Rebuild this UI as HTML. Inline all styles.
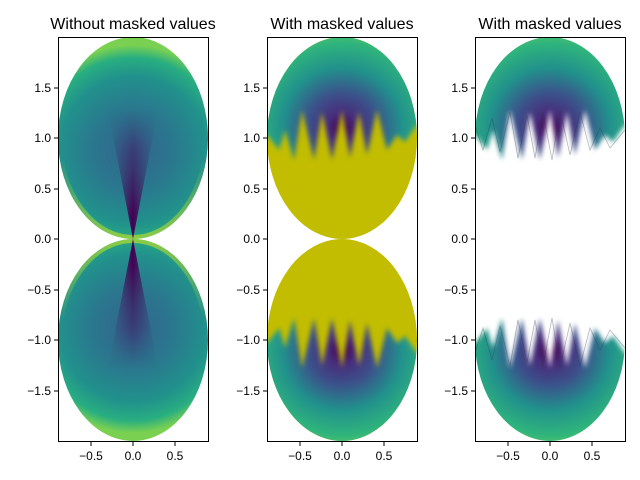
<!DOCTYPE html>
<html><head><style>body{margin:0;background:#fff}svg{display:block}text{font-family:"Liberation Sans","DejaVu Sans",sans-serif}</style></head><body>
<svg width="640" height="480" xmlns="http://www.w3.org/2000/svg">
<defs>
<radialGradient id="gL" gradientUnits="userSpaceOnUse" cx="133" cy="150" r="105">
<stop offset="0" stop-color="#33638d"/><stop offset="0.4" stop-color="#2a788e"/><stop offset="0.7" stop-color="#21918c"/><stop offset="0.88" stop-color="#28ae80"/><stop offset="1" stop-color="#7ad151"/>
</radialGradient>
<radialGradient id="gL2" gradientUnits="userSpaceOnUse" cx="133" cy="328" r="105">
<stop offset="0" stop-color="#33638d"/><stop offset="0.4" stop-color="#2a788e"/><stop offset="0.7" stop-color="#21918c"/><stop offset="0.88" stop-color="#28ae80"/><stop offset="1" stop-color="#7ad151"/>
</radialGradient>
<linearGradient id="wh" x1="0" x2="1"><stop offset="0" stop-color="#440154" stop-opacity="0"/><stop offset="0.5" stop-color="#440154" stop-opacity="1"/><stop offset="1" stop-color="#440154" stop-opacity="0"/></linearGradient>
<linearGradient id="fadeU" x1="0" y1="1" x2="0" y2="0"><stop offset="0" stop-color="#fff"/><stop offset="0.2" stop-color="#fff"/><stop offset="1" stop-color="#000"/></linearGradient>
<linearGradient id="fadeD" x1="0" y1="0" x2="0" y2="1"><stop offset="0" stop-color="#fff"/><stop offset="0.2" stop-color="#fff"/><stop offset="1" stop-color="#000"/></linearGradient>
<mask id="mwU" maskUnits="userSpaceOnUse" x="0" y="0" width="640" height="480"><rect x="90" y="110" width="90" height="129" fill="url(#fadeU)"/></mask>
<mask id="mwD" maskUnits="userSpaceOnUse" x="0" y="0" width="640" height="480"><rect x="90" y="239" width="90" height="129" fill="url(#fadeD)"/></mask>
<linearGradient id="ylU" x1="0" y1="0" x2="0" y2="1"><stop offset="0" stop-color="#000"/><stop offset="0.6" stop-color="#000"/><stop offset="1" stop-color="#aaa"/></linearGradient>
<linearGradient id="ylD" x1="0" y1="1" x2="0" y2="0"><stop offset="0" stop-color="#000"/><stop offset="0.6" stop-color="#000"/><stop offset="1" stop-color="#aaa"/></linearGradient>
<mask id="myU" maskUnits="userSpaceOnUse" x="0" y="0" width="640" height="480"><rect x="50" y="37" width="170" height="202" fill="url(#ylU)"/></mask>
<mask id="myD" maskUnits="userSpaceOnUse" x="0" y="0" width="640" height="480"><rect x="50" y="239" width="170" height="202" fill="url(#ylD)"/></mask>
<radialGradient id="gU" gradientUnits="userSpaceOnUse" cx="0" cy="128" r="100">
<stop offset="0" stop-color="#440154"/><stop offset="0.15" stop-color="#472d7b"/><stop offset="0.35" stop-color="#3b528b"/><stop offset="0.6" stop-color="#21918c"/><stop offset="0.85" stop-color="#2fb47c"/><stop offset="1" stop-color="#5ec962"/>
</radialGradient>
<radialGradient id="gD" gradientUnits="userSpaceOnUse" cx="0" cy="350" r="100">
<stop offset="0" stop-color="#440154"/><stop offset="0.15" stop-color="#472d7b"/><stop offset="0.35" stop-color="#3b528b"/><stop offset="0.6" stop-color="#21918c"/><stop offset="0.85" stop-color="#2fb47c"/><stop offset="1" stop-color="#5ec962"/>
</radialGradient>
<filter id="bl" x="-0.2" y="-0.2" width="1.4" height="1.4"><feGaussianBlur stdDeviation="2.5"/></filter>
<mask id="mU" maskUnits="userSpaceOnUse" x="-100" y="0" width="200" height="480">
<polygon filter="url(#bl)" fill="#fff" points="-90,0 90,0 90,125 75,125 63,142 55,135 45,150 35,110 25,155 17,112 8,158 0,110 -10,160 -20,112 -28,160 -40,110 -48,160 -57,130 -63,150 -75,135 -90,135"/>
</mask>
<mask id="mD" maskUnits="userSpaceOnUse" x="-100" y="0" width="200" height="480">
<polygon filter="url(#bl)" fill="#fff" points="-90,478 90,478 90,353 75,353 63,336 55,343 45,328 35,368 25,323 17,366 8,320 0,368 -10,318 -20,366 -28,318 -40,368 -48,318 -57,348 -63,328 -75,343 -90,343"/>
</mask>
<clipPath id="eU"><ellipse cx="0" cy="138" rx="75" ry="101"/></clipPath>
<clipPath id="eD"><ellipse cx="0" cy="340" rx="75" ry="101"/></clipPath>
<clipPath id="lU"><ellipse cx="133" cy="138" rx="75" ry="101"/></clipPath>
<clipPath id="lD"><ellipse cx="133" cy="340" rx="75" ry="101"/></clipPath>
<g id="topV"><g clip-path="url(#eU)"><rect x="-80" y="30" width="160" height="220" fill="url(#gU)" mask="url(#mU)"/></g></g>
<g id="botV"><g clip-path="url(#eD)"><rect x="-80" y="230" width="160" height="220" fill="url(#gD)" mask="url(#mD)"/></g></g>
</defs>
<!-- Left -->
<g>
<ellipse cx="133" cy="138" rx="75" ry="101" fill="url(#gL)"/>
<ellipse cx="133" cy="340" rx="75" ry="101" fill="url(#gL2)"/>
<g clip-path="url(#lU)">
<ellipse cx="133" cy="138" rx="75" ry="101" fill="none" stroke="#c0df25" stroke-width="8" mask="url(#myU)"/>
<polygon points="133,239 108,110 158,110" fill="url(#wh)" mask="url(#mwU)"/>
</g>
<g clip-path="url(#lD)">
<ellipse cx="133" cy="340" rx="75" ry="101" fill="none" stroke="#c0df25" stroke-width="8" mask="url(#myD)"/>
<polygon points="133,239 108,368 158,368" fill="url(#wh)" mask="url(#mwD)"/>
</g>
</g>
<!-- Middle -->
<ellipse cx="342" cy="138" rx="75" ry="101" fill="#c2bd00"/>
<ellipse cx="342" cy="340" rx="75" ry="101" fill="#c2bd00"/>
<use href="#topV" x="342"/>
<use href="#botV" x="342"/>
<!-- Right -->
<use href="#topV" x="550"/>
<use href="#botV" x="550"/>
<g fill="none" stroke="#334" stroke-width="0.8" opacity="0.35">
<polyline points="475,125 483,150 492,118 500,152 510,112 518,158 527,115 535,158 543,112 552,160 560,110 570,155 580,112 590,150 600,128 610,148 625,130"/>
<polyline points="475,353 483,328 492,360 500,326 510,366 518,320 527,363 535,320 543,366 552,318 560,368 570,323 580,366 590,328 600,350 610,330 625,348"/>
</g>
<g fill="none" stroke="#000" stroke-width="1">
<rect x="58.5" y="37.5" width="150" height="404"/>
<rect x="267.5" y="37.5" width="150" height="404"/>
<rect x="475.5" y="37.5" width="150" height="404"/>
</g>
<g font-size="16" text-anchor="middle" fill="#000">
<text x="133" y="29">Without masked values</text>
<text x="342" y="29">With masked values</text>
<text x="550" y="29">With masked values</text>
</g>
<g font-size="12" fill="#000" stroke="#000">
<g id="yax">
<line x1="58" x2="54" y1="88" y2="88"/><line x1="58" x2="54" y1="138" y2="138"/><line x1="58" x2="54" y1="189" y2="189"/><line x1="58" x2="54" y1="239" y2="239"/><line x1="58" x2="54" y1="290" y2="290"/><line x1="58" x2="54" y1="340" y2="340"/><line x1="58" x2="54" y1="391" y2="391"/>
<g stroke="none" text-anchor="end">
<text x="51" y="92">1.5</text><text x="51" y="142">1.0</text><text x="51" y="193">0.5</text><text x="51" y="243">0.0</text><text x="51" y="294">−0.5</text><text x="51" y="344">−1.0</text><text x="51" y="395">−1.5</text>
</g>
<line x1="91" x2="91" y1="442" y2="446"/><line x1="133" x2="133" y1="442" y2="446"/><line x1="175" x2="175" y1="442" y2="446"/>
<g stroke="none" text-anchor="middle"><text x="91" y="460">−0.5</text><text x="133" y="460">0.0</text><text x="175" y="460">0.5</text></g>
</g>
<use href="#yax" x="209"/>
<use href="#yax" x="417"/>
</g>
</svg>
</body></html>
